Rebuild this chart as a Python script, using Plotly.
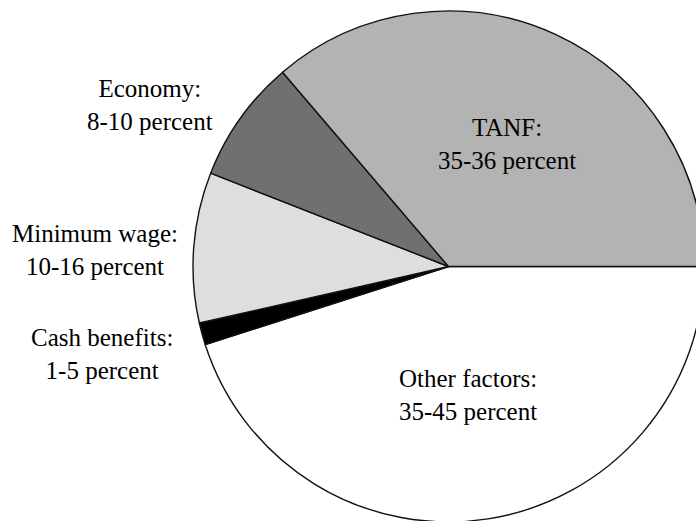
import plotly.graph_objects as go

# ---- data (listed clockwise, starting at 3 o'clock) ----
categories = ["Other factors", "Cash benefits", "Minimum wage", "Economy", "TANF"]
shares = [45.05, 1.4, 9.5, 7.8, 36.25]          # slice sizes (%)
ranges = ["35-45 percent", "1-5 percent", "10-16 percent", "8-10 percent", "35-36 percent"]

colors = ["#ffffff", "#000000", "#dedede", "#707070", "#b3b3b3"]

W, H = 704, 523
label_px = {
    "TANF": (507, 144),
    "Economy": (150, 104.5),
    "Minimum wage": (95, 249.5),
    "Cash benefits": (102, 354),
    "Other factors": (468, 395),
}

fig = go.Figure(go.Pie(
    labels=categories,
    values=shares,
    sort=False,
    direction="clockwise",
    rotation=90,
    textinfo="none",
    hoverinfo="none",
    showlegend=False,
    marker=dict(colors=colors, line=dict(color="#111111", width=1.4)),
    domain=dict(x=[193 / W, 1], y=[1 - 522 / H, 1 - 11 / H]),
))

for cat, rng in zip(categories, ranges):
    px, py = label_px[cat]
    fig.add_annotation(
        x=px / W, y=1 - py / H, xref="paper", yref="paper",
        text=f"{cat}:<br>{rng}", showarrow=False,
        xanchor="center", yanchor="middle", align="center",
        font=dict(family="Liberation Serif", size=25, color="#000000"),
    )

fig.update_layout(
    width=W, height=H,
    margin=dict(l=0, r=0, t=0, b=0),
    paper_bgcolor="#ffffff",
    plot_bgcolor="#ffffff",
)

fig.write_html(
    "out.html",
    config={"displayModeBar": False},
    post_script="document.body.style.margin='0';document.body.style.overflow='hidden';document.documentElement.style.overflow='hidden';",
)
